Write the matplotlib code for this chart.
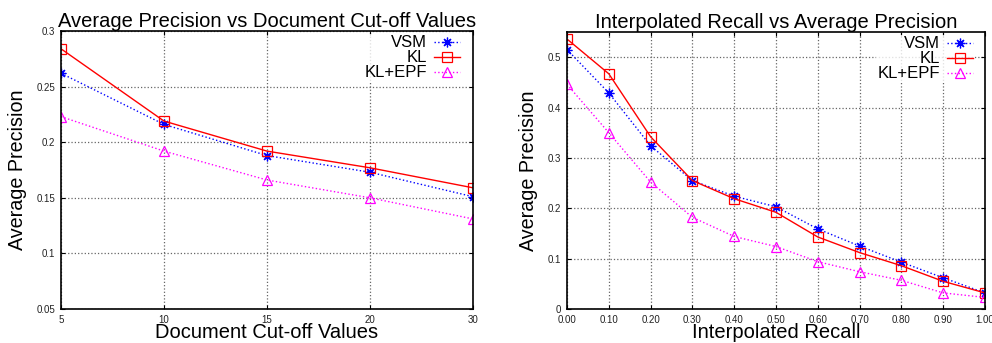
import matplotlib
matplotlib.use("Agg")
import matplotlib.pyplot as plt
import numpy as np

plt.rcParams['font.family'] = ['Liberation Sans', 'DejaVu Sans']

# Left chart data
cutoffs = ['5', '10', '15', '20', '30']
vsm_cut = [0.262, 0.216, 0.188, 0.173, 0.151]
kl_cut = [0.284, 0.219, 0.192, 0.177, 0.159]
klepf_cut = [0.223, 0.192, 0.166, 0.150, 0.131]

# Right chart data
recall = [0.0, 0.1, 0.2, 0.3, 0.4, 0.5, 0.6, 0.7, 0.8, 0.9, 1.0]
vsm_rec = [0.515, 0.429, 0.324, 0.255, 0.224, 0.203, 0.159, 0.125, 0.093, 0.062, 0.032]
kl_rec = [0.536, 0.467, 0.342, 0.255, 0.219, 0.192, 0.143, 0.112, 0.086, 0.055, 0.032]
klepf_rec = [0.446, 0.350, 0.252, 0.182, 0.144, 0.124, 0.094, 0.074, 0.057, 0.032, 0.023]

fig = plt.figure(figsize=(9.92, 3.43), dpi=100)
ax1 = fig.add_axes([0.0615, 0.0991, 0.4153, 0.8105])
ax2 = fig.add_axes([0.5716, 0.0991, 0.4213, 0.8076])

styles = dict(
    vsm=dict(color='#0000ff', linestyle=':', linewidth=1.0, marker=(8, 2, 0), markersize=7, markeredgewidth=0.9),
    kl=dict(color='#ff0000', linestyle='-', linewidth=1.0, marker='s', markersize=6.5, markerfacecolor='none', markeredgewidth=0.9),
    klepf=dict(color='#ff00ff', linestyle=':', linewidth=1.0, marker='^', markersize=6.5, markerfacecolor='none', markeredgewidth=0.9),
)

def style_axes(ax):
    ax.grid(True, color='#666666', linestyle=':', linewidth=0.9)
    ax.tick_params(direction='in', top=True, right=True, length=3, labelsize=7, pad=4,
                   labelcolor='#222222')
    for s in ax.spines.values():
        s.set_linewidth(1.2)
    ax.set_axisbelow(True)

ax1.plot(cutoffs, vsm_cut, label='VSM', **styles['vsm'])
ax1.plot(cutoffs, kl_cut, label='KL', **styles['kl'])
ax1.plot(cutoffs, klepf_cut, label='KL+EPF', **styles['klepf'])
ax1.set_xlim(0, 4)
ax1.set_ylim(0.05, 0.3)
ax1.set_yticks([0.05, 0.1, 0.15, 0.2, 0.25, 0.3])
ax1.set_yticklabels(['0.05', '0.1', '0.15', '0.2', '0.25', '0.3'])
style_axes(ax1)
ax1.set_title('Average Precision vs Document Cut-off Values', fontsize=14.5, pad=3)
ax1.set_xlabel('Document Cut-off Values', fontsize=14.5, labelpad=-1)
ax1.set_ylabel('Average Precision', fontsize=14.2, labelpad=7)

ax2.plot(recall, vsm_rec, label='VSM', **styles['vsm'])
ax2.plot(recall, kl_rec, label='KL', **styles['kl'])
ax2.plot(recall, klepf_rec, label='KL+EPF', **styles['klepf'])
ax2.set_xlim(0, 1)
ax2.set_ylim(0, 0.55)
ax2.set_xticks(recall)
ax2.set_xticklabels(['%.2f' % r for r in recall])
ax2.set_yticks([0, 0.1, 0.2, 0.3, 0.4, 0.5])
ax2.set_yticklabels(['0', '0.1', '0.2', '0.3', '0.4', '0.5'])
style_axes(ax2)
ax2.set_title('Interpolated Recall vs Average Precision', fontsize=14.5, pad=3)
ax2.set_xlabel('Interpolated Recall', fontsize=14.5, labelpad=-1)
ax2.set_ylabel('Average Precision', fontsize=14.2, labelpad=7)

for ax, xa in ((ax1, 0.973), (ax2, 0.976)):
    leg = ax.legend(loc='upper right', bbox_to_anchor=(xa, 0.99), frameon=True, fontsize=12,
                    markerfirst=False, handlelength=1.6, handletextpad=0.4, labelspacing=0.0,
                    borderaxespad=0.0, borderpad=0.1, fancybox=False)
    leg.get_frame().set_facecolor('white')
    leg.get_frame().set_edgecolor('none')
    for t in leg.get_texts():
        t.set_ha('right')

fig.savefig('out.png', dpi=100)
